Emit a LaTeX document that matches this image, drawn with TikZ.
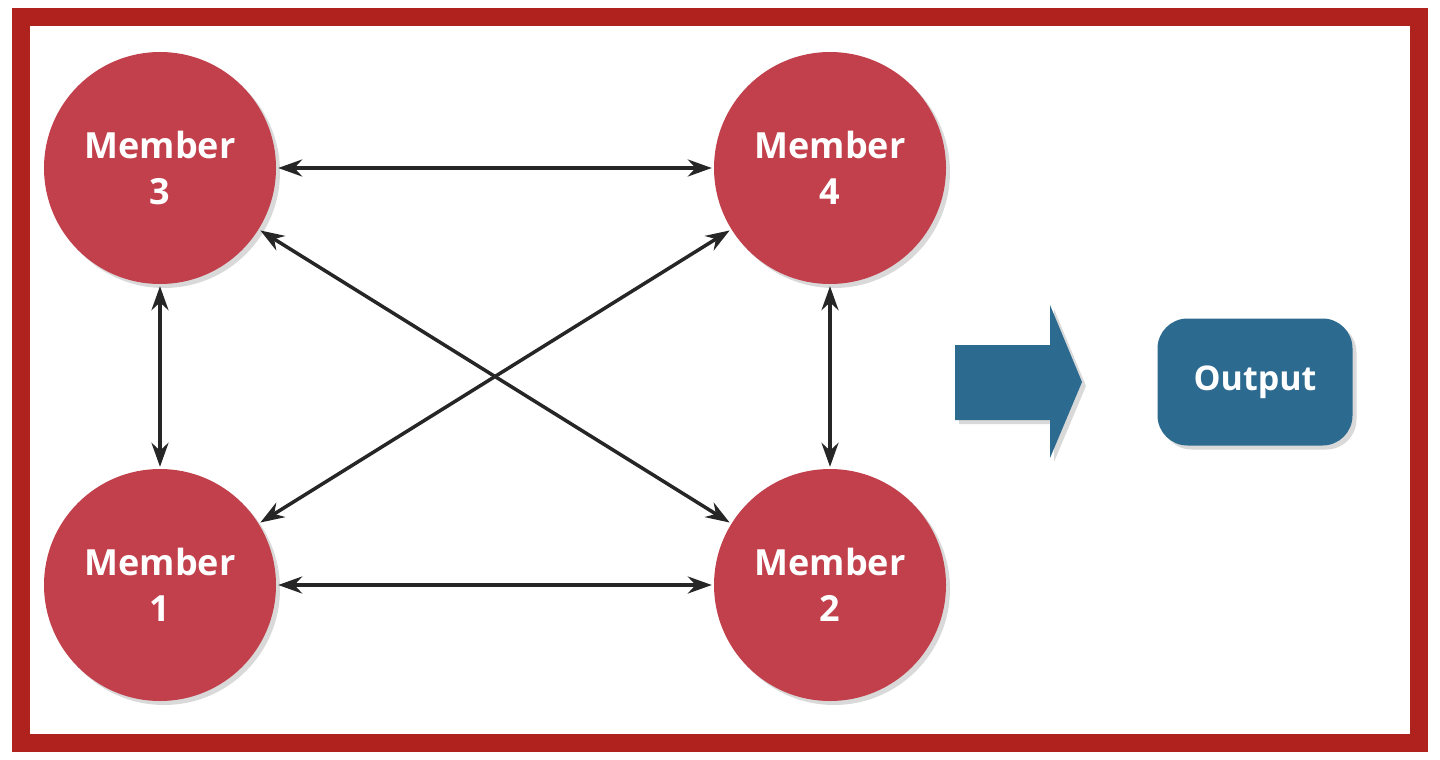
\documentclass[tikz,border=0pt]{standalone}
\usepackage{fontspec}
\setmainfont{Open Sans}
\usetikzlibrary{arrows.meta,shadows}
\definecolor{frame}{HTML}{B0221E}
\definecolor{mem}{HTML}{C1404B}
\definecolor{outc}{HTML}{2D6A8F}
\tikzset{
 member/.style={circle,fill=mem,minimum size=232pt,inner sep=0pt,align=center,text=white,font=\bfseries\fontsize{36}{46}\selectfont,drop shadow={shadow xshift=4pt,shadow yshift=-4pt,opacity=0.3}},
 link/.style={{Stealth[length=24pt,width=17pt]}-{Stealth[length=24pt,width=17pt]},line width=3.5pt,black!85,shorten <=2pt,shorten >=2pt}
}
\begin{document}
\begin{tikzpicture}[x=1pt,y=-1pt]
\useasboundingbox (0,0) rectangle (1440,760);
\draw[frame,line width=18pt] (21,17) rectangle (1419,743);
\node[member] (m3) at (160,168) {Member\\3};
\node[member] (m4) at (830,168) {Member\\4};
\node[member] (m1) at (160,585) {Member\\1};
\node[member] (m2) at (830,585) {Member\\2};
\draw[link] (m3) -- (m4);
\draw[link] (m1) -- (m2);
\draw[link] (m3) -- (m1);
\draw[link] (m4) -- (m2);
\draw[link] (m3) -- (m2);
\draw[link] (m1) -- (m4);
\fill[outc,drop shadow={shadow xshift=4pt,shadow yshift=-4pt,opacity=0.3}] (955,345) -- (1050,345) -- (1050,305) -- (1082,382) -- (1050,458) -- (1050,420) -- (955,420) -- cycle;
\node[fill=outc,rounded corners=30pt,minimum width=195pt,minimum height=127pt,text=white,font=\bfseries\fontsize{34}{42}\selectfont,drop shadow={shadow xshift=4pt,shadow yshift=-4pt,opacity=0.3}] (out) at (1255,382) {Output};
\end{tikzpicture}
\end{document}
